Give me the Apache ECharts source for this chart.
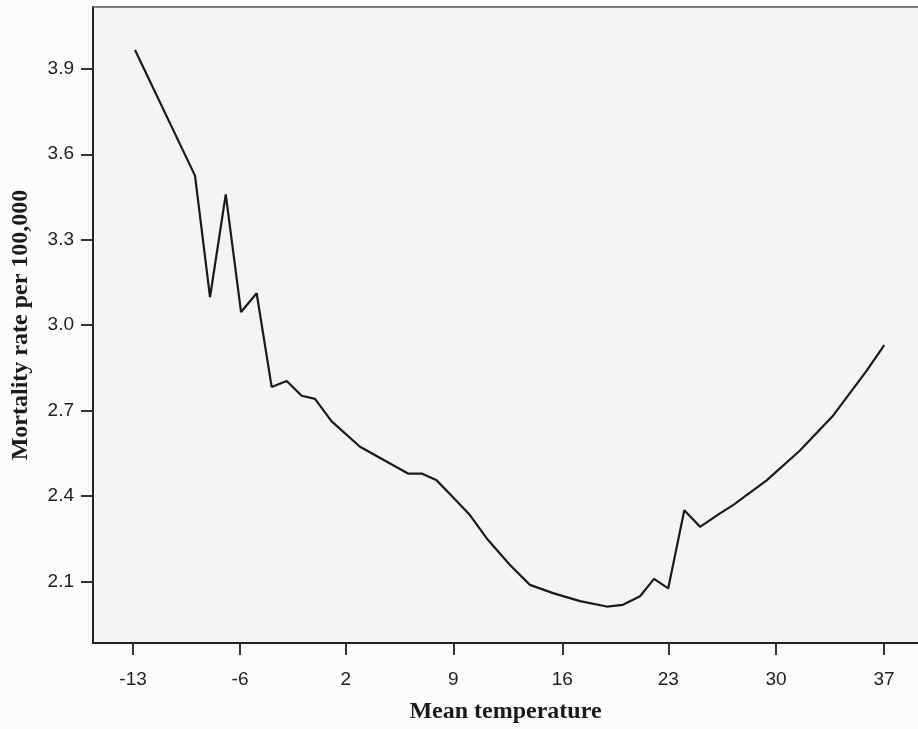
<!DOCTYPE html>
<html>
<head>
<meta charset="utf-8">
<script src="https://cdn.jsdelivr.net/npm/echarts@6/dist/echarts.min.js"></script>
<style>
html,body{margin:0;padding:0;background:#fcfcfc;}
#chart{width:918px;height:729px;}
</style>
</head>
<body>
<div id="chart"></div>
<script>
// Mean temperature (x)
var temps = [-13.0, -9.0, -8.0, -6.95, -5.93, -4.89, -3.89, -2.89, -1.89, -1.0,
  0.11, 2.0, 5.2, 6.11, 7.11, 8.2, 9.33, 10.45, 12.0, 13.33,
  14.87, 16.67, 18.45, 19.53, 20.67, 21.6, 22.55, 23.62, 24.67, 26.0,
  26.87, 29.11, 31.33, 33.55, 35.78, 36.95];
// Mortality rate per 100,000 (y)
var rates = [3.966, 3.525, 3.098, 3.459, 3.046, 3.112, 2.783, 2.804, 2.752, 2.741,
  2.662, 2.573, 2.479, 2.479, 2.455, 2.396, 2.333, 2.251, 2.158, 2.088,
  2.059, 2.031, 2.012, 2.018, 2.048, 2.109, 2.076, 2.350, 2.292, 2.339,
  2.368, 2.455, 2.560, 2.683, 2.840, 2.930];
// x-axis tick positions and their printed labels
var xTickValues = [-13.13, -6.0, 1.05, 8.22, 15.49, 22.55, 29.73, 36.93];
var xTickLabels = ['-13', '-6', '2', '9', '16', '23', '30', '37'];
// y-axis ticks
var yTickValues = [2.1, 2.4, 2.7, 3.0, 3.3, 3.6, 3.9];
var yTickLabels = ['2.1', '2.4', '2.7', '3.0', '3.3', '3.6', '3.9'];

var seriesData = temps.map(function (t, i) { return [t, rates[i]]; });

function nearestLabel(v, vals, labels) {
  var best = 0, bd = Infinity;
  for (var i = 0; i < vals.length; i++) {
    var d = Math.abs(vals[i] - v);
    if (d < bd) { bd = d; best = i; }
  }
  return labels[best];
}

var X_MIN = -15.8, X_MAX = 39.2;

var chart = echarts.init(document.getElementById('chart'), null, {renderer: 'canvas'});
chart.setOption({
  backgroundColor: '#fcfcfc',
  animation: false,
  grid: {
    left: 93, top: 7, right: 0, bottom: 84,
    show: true, backgroundColor: '#f4f4f4',
    borderWidth: 0
  },
  xAxis: [{
    type: 'value',
    min: X_MIN, max: X_MAX,
    name: 'Mean temperature',
    nameLocation: 'middle',
    nameGap: 57,
    nameTextStyle: {fontFamily: 'Liberation Serif', fontWeight: 'bold', fontSize: 24, color: '#1a1a1a'},
    splitLine: {show: false},
    axisLine: {show: true, onZero: false, lineStyle: {color: '#222', width: 2}},
    axisTick: {show: true, length: 12, customValues: xTickValues, lineStyle: {color: '#333', width: 2}},
    axisLabel: {
      customValues: xTickValues,
      margin: 27,
      fontFamily: 'Liberation Sans', fontSize: 19, color: '#222',
      formatter: function (v) { return nearestLabel(v, xTickValues, xTickLabels); }
    }
  }, {
    type: 'value',
    position: 'top',
    min: X_MIN, max: X_MAX,
    splitLine: {show: false},
    axisLine: {show: true, onZero: false, lineStyle: {color: '#555', width: 1.5}},
    axisTick: {show: false},
    axisLabel: {show: false}
  }],
  yAxis: {
    type: 'value',
    min: 1.884, max: 4.117,
    name: 'Mortality rate per 100,000',
    nameLocation: 'middle',
    nameGap: 60,
    nameTextStyle: {fontFamily: 'Liberation Serif', fontWeight: 'bold', fontSize: 24, color: '#1a1a1a'},
    splitLine: {show: false},
    axisLine: {show: true, onZero: false, lineStyle: {color: '#222', width: 2}},
    axisTick: {show: true, length: 12, customValues: yTickValues, lineStyle: {color: '#333', width: 2}},
    axisLabel: {
      customValues: yTickValues,
      margin: 19,
      fontFamily: 'Liberation Sans', fontSize: 19, color: '#222',
      formatter: function (v) { return nearestLabel(v, yTickValues, yTickLabels); }
    }
  },
  series: [{
    type: 'line',
    xAxisIndex: 0,
    data: seriesData,
    showSymbol: false,
    symbol: 'none',
    lineStyle: {color: '#1a1a1a', width: 2.2},
    clip: true
  }]
});
</script>
</body>
</html>
